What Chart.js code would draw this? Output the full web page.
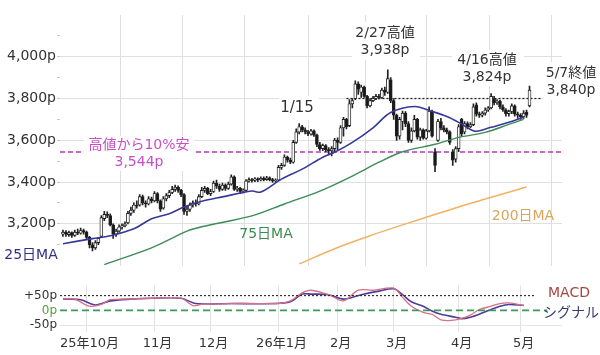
<!DOCTYPE html>
<html>
<head>
<meta charset="utf-8">
<script src="https://cdn.jsdelivr.net/npm/chart.js@4"></script>
<style>
  html, body { margin: 0; padding: 0; background: #fff; }
  #wrap { position: relative; width: 600px; height: 355px; }
  #main { position: absolute; left: 0; top: 0; }
  #macd { position: absolute; left: 0; top: 275px; }
</style>
</head>
<body>
<div id="wrap">
  <canvas id="main" width="600" height="275"></canvas>
  <canvas id="macd" width="600" height="80"></canvas>
</div>
<script>
// Daily candles, index 0 = first trading day on the chart (late Sep 2025)
const opens = [
  3150,3160,3148,3158,3145,3160,3155,3168,3160,3135,
  3100,3085,3110,3140,3225,3245,3240,3195,3150,3165,
  3185,3190,3205,3250,3265,3290,3290,3330,3300,3295,
  3320,3310,3345,3310,3275,3320,3335,3350,3365,3375,
  3360,3340,3260,3270,3290,3300,3295,3330,3360,3370,
  3345,3355,3395,3380,3365,3385,3370,3390,3425,3365,
  3370,3355,3360,3405,3412,3408,3415,3410,3418,3412,
  3420,3412,3405,3410,3470,3480,3520,3505,3495,3590,
  3640,3665,3650,3640,3630,3645,3625,3580,3560,3575,
  3555,3550,3560,3600,3590,3660,3700,3670,3775,3800,
  3870,3830,3855,3810,3765,3790,3800,3810,3805,3840,
  3830,3890,3790,3720,3620,3690,3730,3680,3600,3645,
  3700,3615,3650,3610,3645,3740,3545,3600,3690,3660,
  3650,3640,3545,3510,3560,3700,3640,3680,3665,3675,
  3770,3725,3720,3730,3745,3755,3800,3780,3788,3760,
  3745,3728,3738,3765,3725,3720,3712,3735,3765
];
const highs = [
  3170,3168,3165,3162,3170,3175,3180,3175,3165,3140,
  3110,3120,3135,3240,3260,3258,3248,3200,3175,3195,
  3200,3210,3260,3280,3300,3310,3340,3338,3310,3330,
  3328,3355,3350,3315,3330,3345,3360,3380,3385,3382,
  3365,3345,3285,3300,3310,3315,3340,3375,3380,3375,
  3365,3405,3410,3390,3395,3392,3400,3435,3430,3380,
  3375,3368,3412,3420,3418,3422,3420,3425,3425,3428,
  3425,3418,3415,3480,3490,3530,3525,3515,3600,3655,
  3680,3672,3660,3648,3652,3650,3630,3590,3582,3580,
  3565,3570,3610,3612,3670,3710,3705,3795,3800,3885,
  3880,3865,3860,3815,3800,3810,3820,3820,3850,3855,
  3938,3900,3800,3725,3710,3740,3738,3690,3660,3720,
  3705,3658,3655,3652,3760,3745,3560,3700,3705,3670,
  3658,3645,3555,3570,3675,3705,3690,3688,3685,3775,
  3780,3735,3738,3755,3762,3824,3810,3795,3792,3770,
  3752,3745,3775,3770,3735,3728,3742,3745,3860
];
const lows = [
  3140,3140,3140,3135,3140,3148,3150,3150,3128,3085,
  3070,3078,3100,3135,3215,3230,3190,3130,3140,3160,
  3175,3185,3200,3240,3255,3275,3285,3290,3280,3290,
  3300,3305,3300,3260,3270,3310,3325,3345,3355,3350,
  3330,3245,3240,3260,3280,3285,3290,3325,3350,3340,
  3335,3350,3370,3355,3360,3360,3365,3385,3360,3355,
  3345,3348,3355,3400,3400,3402,3402,3405,3405,3408,
  3405,3398,3400,3405,3460,3475,3495,3488,3490,3585,
  3630,3640,3630,3622,3625,3618,3570,3552,3550,3545,
  3530,3525,3545,3555,3585,3620,3655,3665,3755,3795,
  3820,3805,3805,3755,3760,3785,3795,3798,3800,3815,
  3825,3780,3700,3600,3605,3650,3665,3590,3590,3640,
  3605,3600,3605,3605,3640,3615,3450,3595,3650,3640,
  3630,3580,3480,3495,3545,3620,3630,3655,3660,3670,
  3715,3710,3712,3720,3738,3750,3770,3772,3750,3738,
  3715,3715,3728,3715,3705,3700,3705,3710,3760
];
const closes = [
  3160,3150,3158,3145,3160,3155,3168,3160,3135,3100,
  3085,3110,3130,3230,3245,3240,3195,3150,3165,3185,
  3190,3200,3250,3265,3290,3285,3330,3300,3295,3320,
  3310,3345,3310,3270,3320,3335,3350,3365,3375,3360,
  3340,3260,3270,3290,3300,3295,3330,3360,3370,3345,
  3355,3395,3380,3365,3385,3370,3390,3425,3365,3370,
  3355,3360,3405,3412,3408,3415,3410,3418,3412,3420,
  3412,3405,3410,3470,3480,3520,3505,3495,3590,3640,
  3665,3650,3640,3630,3645,3625,3580,3560,3575,3555,
  3550,3560,3600,3590,3660,3700,3665,3775,3790,3870,
  3845,3855,3810,3765,3790,3800,3810,3805,3840,3830,
  3895,3790,3720,3620,3700,3730,3680,3600,3645,3700,
  3615,3650,3610,3645,3740,3620,3480,3690,3660,3650,
  3640,3590,3505,3560,3665,3630,3680,3665,3675,3760,
  3725,3720,3730,3745,3755,3810,3780,3788,3760,3745,
  3728,3738,3765,3725,3720,3712,3730,3720,3840
];

// moving averages (day index -> price)
const ma25Days = [0, 10, 16, 24, 30, 36, 41, 47, 54, 64, 67, 74, 81, 88, 92, 98, 105, 111, 119, 125, 130, 134, 138, 140, 145, 151, 156];
const ma25 = [3105, 3129, 3143, 3176, 3224, 3248, 3281, 3308, 3329, 3357, 3352, 3414, 3462, 3519, 3543, 3590, 3660, 3733, 3762, 3738, 3714, 3686, 3652, 3643, 3662, 3686, 3710];
const ma75Days = [14, 30, 42, 47, 64, 75, 87, 98, 107, 115, 126, 134, 143, 151, 156];
const ma75 = [3005, 3085, 3165, 3186, 3238, 3295, 3357, 3429, 3495, 3545, 3581, 3614, 3638, 3676, 3700];
const ma200Days = [80, 92, 104, 115, 134, 157];
const ma200 = [3008, 3081, 3143, 3195, 3281, 3376];

// MACD panel
const macdDays = [0, 4, 9, 13, 16, 23, 30, 40, 44, 47, 57, 67, 73, 77, 81, 84, 90, 95, 100, 105, 112, 115, 118, 122, 125, 128, 133, 138, 141, 145, 148, 151, 156];
const macdLine = [38, 38, 14, 20, 36, 38, 41, 41, 16, 20, 23, 23, 23, 32, 59, 68, 53, 32, 68, 68, 75, 44, 14, -7, -13, -32, -32, -16, 3, 14, 23, 25, 17];
const signalDays = [0, 6, 11, 16, 23, 30, 40, 45, 57, 71, 77, 81, 84, 90, 95, 101, 107, 112, 115, 118, 122, 125, 128, 133, 135, 138, 141, 145, 148, 151, 156];
const signalLine = [38, 36, 18, 32, 38, 41, 41, 23, 23, 23, 29, 55, 55, 53, 38, 53, 65, 73, 53, 29, 14, -2, -13, -23, -28, -23, -13, 3, 14, 20, 17];

// axes
const monthTicks = [8, 31, 50, 73, 93, 112, 134, 155];
const monthLabels = ['25年10月', '11月', '12月', '26年1月', '2月', '3月', '4月', '5月'];
const priceTicks = [3100, 3200, 3300, 3400, 3500, 3600, 3700, 3800, 3900, 4000, 4100];
const priceLabels = [3200, 3400, 3600, 3800, 4000];
const macdTicks = [-50, 0, 50];
const macdTickLabels = ['-50p', '0p', '+50p'];

// reference levels
const dropLevel = 3544;   // 高値から10%安
const highLevel = 3800;
const macdUpper = 50;

const FONT = '"DejaVu Sans", "Noto Sans CJK JP", sans-serif';
Chart.defaults.font.family = FONT;
Chart.defaults.color = '#333';
Chart.defaults.animation = false;

const pts = (xs, ys) => xs.map((x, i) => ({ x: x, y: ys[i] }));
const days = closes.map((_, i) => i);
const X_MIN = -1, X_MAX = 169;

function drawLabels(chart, items) {
  const ctx = chart.ctx;
  ctx.save();
  ctx.textAlign = 'center';
  ctx.textBaseline = 'middle';
  items.forEach(it => {
    if (it.box) {
      ctx.fillStyle = '#fff';
      ctx.fillRect(it.box[0], it.box[1], it.box[2], it.box[3]);
    }
    ctx.font = (it.size || 14) + 'px ' + FONT;
    ctx.fillStyle = it.color || '#333';
    it.lines.forEach((t, k) => ctx.fillText(t, it.x, it.y + k * 17));
  });
  ctx.restore();
}

const mainLabels = {
  id: 'mainLabels',
  afterDatasetsDraw(chart) {
    drawLabels(chart, [
      { lines: ['2/27高値', '3,938p'], x: 385, y: 33, box: [352, 22, 68, 38] },
      { lines: ['1/15'], x: 297, y: 108, size: 15, box: [279, 96, 40, 24] },
      { lines: ['4/16高値', '3,824p'], x: 487, y: 60, box: [452, 50, 72, 36] },
      { lines: ['5/7終値', '3,840p'], x: 571, y: 73, box: [543, 62, 57, 38] },
      { lines: ['高値から10%安', '3,544p'], x: 139, y: 145, color: '#c64fc6', box: [84, 136, 110, 35] },
      { lines: ['25日MA'], x: 31, y: 255, color: '#2f2f86' },
      { lines: ['75日MA'], x: 266, y: 234, color: '#3d8a52' },
      { lines: ['200日MA'], x: 523, y: 216, color: '#d8a75a' }
    ]);
  }
};

new Chart(document.getElementById('main'), {
  type: 'bar',
  data: {
    datasets: [
      {
        label: 'wick',
        data: days.map(i => ({ x: i, y: [lows[i], highs[i]] })),
        backgroundColor: '#222',
        barThickness: 1,
        grouped: false,
        order: 3
      },
      {
        label: 'body',
        data: days.map(i => ({ x: i, y: [opens[i], closes[i]] })),
        backgroundColor: days.map(i => closes[i] >= opens[i] ? '#ffffff' : '#1a1a1a'),
        borderColor: '#222',
        borderWidth: 0.9,
        borderSkipped: false,
        barThickness: 3,
        grouped: false,
        order: 2
      },
      {
        type: 'line', label: '10%安',
        data: [{ x: X_MIN, y: dropLevel }, { x: X_MAX, y: dropLevel }],
        borderColor: '#b83cc0', borderWidth: 1.6, borderDash: [5, 3],
        pointRadius: 0, order: 4
      },
      {
        type: 'line', label: 'high',
        data: [{ x: 96, y: highLevel }, { x: 162, y: highLevel }],
        borderColor: '#222', borderWidth: 1.3, borderDash: [2, 2],
        pointRadius: 0, order: 4
      },
      {
        type: 'line', label: '200日MA', data: pts(ma200Days, ma200),
        borderColor: '#f2b264', borderWidth: 1.5, pointRadius: 0, tension: 0.3, order: 1
      },
      {
        type: 'line', label: '75日MA', data: pts(ma75Days, ma75),
        borderColor: '#3d8b58', borderWidth: 1.4, pointRadius: 0, tension: 0.3, order: 1
      },
      {
        type: 'line', label: '25日MA', data: pts(ma25Days, ma25),
        borderColor: '#38389a', borderWidth: 1.6, pointRadius: 0, tension: 0.35, order: 0
      }
    ]
  },
  options: {
    responsive: false,
    layout: { padding: { top: 15, right: 38, left: 0, bottom: 0 } },
    plugins: { legend: { display: false }, tooltip: { enabled: false } },
    scales: {
      x: {
        type: 'linear', min: X_MIN, max: X_MAX, offset: false,
        afterBuildTicks: s => { s.ticks = monthTicks.map(v => ({ value: v })); },
        afterFit: s => { s.height = 8; },
        ticks: { display: false },
        grid: { color: '#dedede', drawTicks: false },
        border: { display: false }
      },
      y: {
        min: 3000, max: 4200,
        afterBuildTicks: s => { s.ticks = priceTicks.map(v => ({ value: v })); },
        afterFit: s => { s.width = 60; },
        ticks: {
          padding: 1,
          font: { size: 14 },
          color: '#333',
          callback: v => priceLabels.includes(v) ? v.toLocaleString('en-US') + 'p' : ''
        },
        grid: {
          color: c => priceLabels.includes(c.tick.value) ? '#e0e0e0' : 'rgba(0,0,0,0)',
          tickColor: '#c8c8c8',
          tickLength: 3
        },
        border: { display: false }
      }
    }
  },
  plugins: [mainLabels]
});

const macdLabels = {
  id: 'macdLabels',
  afterDatasetsDraw(chart) {
    drawLabels(chart, [
      { lines: ['MACD'], x: 569, y: 18, color: '#a8453f' },
      { lines: ['シグナル'], x: 571, y: 38, color: '#3a3a78' }
    ]);
  }
};

new Chart(document.getElementById('macd'), {
  type: 'line',
  data: {
    datasets: [
      {
        label: '+50',
        data: [{ x: X_MIN, y: macdUpper }, { x: 160, y: macdUpper }],
        borderColor: '#333', borderWidth: 1.2, borderDash: [2, 2], pointRadius: 0
      },
      {
        label: '0',
        data: [{ x: X_MIN, y: 0 }, { x: 164, y: 0 }],
        borderColor: '#3c9a5a', borderWidth: 1.8, borderDash: [7, 4], pointRadius: 0
      },
      {
        label: 'MACD', data: pts(macdDays, macdLine),
        borderColor: '#d77088', borderWidth: 1.3, pointRadius: 0, tension: 0.3
      },
      {
        label: 'シグナル', data: pts(signalDays, signalLine),
        borderColor: '#4d3c98', borderWidth: 1.6, pointRadius: 0, tension: 0.3
      }
    ]
  },
  options: {
    responsive: false,
    layout: { padding: { top: 5, right: 38, left: 0, bottom: 0 } },
    plugins: { legend: { display: false }, tooltip: { enabled: false } },
    scales: {
      x: {
        type: 'linear', min: X_MIN, max: X_MAX, offset: false,
        afterBuildTicks: s => { s.ticks = monthTicks.map(v => ({ value: v })); },
        afterFit: s => { s.height = 23; },
        ticks: {
          autoSkip: false, maxRotation: 0, padding: 4, labelOffset: 3,
          font: { size: 13 }, color: '#333',
          callback: (v, i) => monthLabels[i]
        },
        grid: { color: '#e2e2e2', drawTicks: false },
        border: { display: false }
      },
      y: {
        min: -73, max: 85,
        afterBuildTicks: s => { s.ticks = macdTicks.map(v => ({ value: v })); },
        afterFit: s => { s.width = 60; },
        ticks: {
          padding: 3,
          font: { size: 12 },
          color: c => c.tick.value === 0 ? '#5a9a3a' : '#333',
          callback: (v, i) => macdTickLabels[i]
        },
        grid: {
          color: c => c.tick.value === -50 ? '#e6e6e6' : 'rgba(0,0,0,0)',
          drawTicks: false
        },
        border: { display: false }
      }
    }
  },
  plugins: [macdLabels]
});
</script>
</body>
</html>
